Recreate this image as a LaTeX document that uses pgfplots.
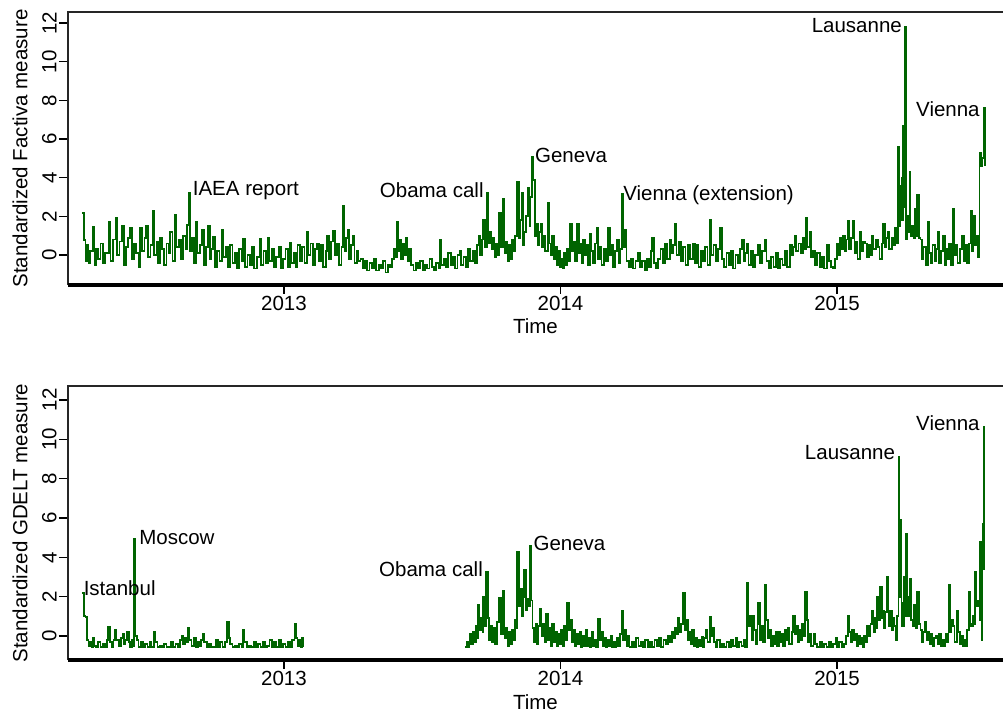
\documentclass[border=0pt]{standalone}
\usepackage{fontspec}
\setmainfont{Liberation Sans}
\usepackage{pgfplots}
\usepackage{pgfplotstable}
\pgfplotsset{compat=1.18}
\definecolor{series}{RGB}{0,100,0}

% day = days since 1 Jan 2012
\pgfplotstableread[row sep=\\]{
day value\\
100 2.19\\ 102 0.78\\ 104 -0.3\\ 106 0.5\\ 108 -0.4\\ 110 0.2\\ 114 1.46\\ 116 -0.5\\ 118 0.3\\ 121 -0.2\\
124 0.6\\ 127 -0.4\\ 130 0.1\\ 135 1.72\\ 137 -0.3\\ 140 0.8\\ 144 1.9\\ 146 0.0\\ 149 0.7\\ 152 1.5\\
155 -0.5\\ 158 0.4\\ 160 0.9\\ 163 1.4\\ 165 -0.2\\ 168 0.6\\ 171 0.1\\ 174 -0.6\\ 176 1.4\\ 179 0.2\\
182 0.9\\ 184 1.5\\ 187 -0.1\\ 190 0.5\\ 193 2.27\\ 195 0.0\\ 198 0.7\\ 200 -0.4\\ 202 0.9\\ 205 0.3\\
208 -0.5\\ 211 0.6\\ 214 0.1\\ 216 1.2\\ 219 -0.3\\ 222 2.07\\ 224 0.4\\ 227 0.8\\ 230 -0.2\\ 233 1.0\\
236 0.3\\ 238 1.55\\ 240 3.22\\ 242 0.2\\ 245 0.9\\ 247 -0.4\\ 250 1.7\\ 252 0.1\\ 255 0.5\\ 258 1.3\\
260 -0.5\\ 263 0.4\\ 266 1.5\\ 268 -0.2\\ 270 0.3\\ 272 0.96\\ 275 -0.6\\ 278 0.2\\ 281 -0.3\\ 284 1.3\\
286 -0.1\\ 289 0.4\\ 292 -0.6\\ 295 0.5\\ 298 -0.4\\ 301 0.1\\ 304 -0.7\\ 307 0.3\\ 310 -0.3\\ 312 0.85\\
315 -0.6\\ 318 0.0\\ 321 -0.5\\ 324 0.4\\ 327 -0.7\\ 330 -0.1\\ 334 0.85\\ 336 -0.5\\ 339 0.2\\ 342 -0.4\\
345 0.9\\ 347 -0.3\\ 350 0.3\\ 353 -0.6\\ 356 -0.1\\ 359 0.4\\ 362 -0.7\\ 365 -0.2\\ 368 0.3\\ 371 -0.6\\
374 0.65\\ 376 -0.4\\ 379 0.1\\ 382 -0.6\\ 384 0.5\\ 387 -0.3\\ 390 0.4\\ 393 -0.4\\ 396 1.2\\ 398 0.0\\
401 0.6\\ 404 -0.5\\ 407 0.3\\ 410 0.6\\ 412 -0.3\\ 415 0.5\\ 418 -0.6\\ 421 0.2\\ 423 1.0\\ 425 -0.2\\
428 0.7\\ 431 1.25\\ 433 0.0\\ 436 0.6\\ 439 -0.5\\ 442 0.4\\ 444 2.53\\ 446 0.2\\ 448 0.9\\ 450 1.3\\
452 -0.2\\ 455 0.5\\ 457 1.0\\ 459 -0.4\\ 462 0.2\\ 464 -0.3\\ 467 -0.2\\ 470 -0.7\\ 473 -0.3\\ 476 -0.8\\
479 -0.4\\ 482 -0.7\\ 485 -0.2\\ 488 -0.8\\ 491 -0.5\\ 494 -0.7\\ 497 -0.3\\ 500 -0.9\\ 503 -0.5\\ 506 -0.6\\
509 -0.2\\ 511 0.3\\ 513 -0.1\\ 515 1.7\\ 517 0.2\\ 519 0.8\\ 521 -0.2\\ 523 0.6\\ 525 0.0\\ 527 0.9\\
529 -0.3\\ 531 0.3\\ 534 -0.5\\ 537 -0.8\\ 540 -0.4\\ 543 -0.7\\ 546 -0.3\\ 549 -0.8\\ 552 -0.5\\ 555 -0.7\\
558 -0.2\\ 561 -0.6\\ 564 -0.8\\ 567 -0.4\\ 570 -0.7\\ 572 0.78\\ 574 -0.5\\ 577 -0.2\\ 580 -0.6\\ 583 0.1\\
586 -0.5\\ 589 -0.1\\ 592 -0.7\\ 595 0.0\\ 598 0.2\\ 600 -0.5\\ 603 -0.1\\ 606 -0.6\\ 609 0.3\\ 612 -0.3\\
615 0.2\\ 618 -0.4\\ 621 0.5\\ 623 1.0\\ 625 0.0\\ 627 0.8\\ 629 1.8\\ 631 0.4\\ 634 3.22\\ 636 0.6\\
638 1.2\\ 640 0.3\\ 642 0.9\\ 644 -0.1\\ 646 0.6\\ 648 0.0\\ 650 2.17\\ 652 0.4\\ 655 2.88\\ 657 0.1\\
659 0.7\\ 661 -0.3\\ 663 0.5\\ 665 -0.2\\ 667 0.8\\ 669 0.2\\ 671 1.0\\ 674 3.78\\ 676 0.9\\ 678 1.8\\
680 3.2\\ 681 0.5\\ 683 1.2\\ 685 2.0\\ 688 3.45\\ 690 1.5\\ 691 3.0\\ 693 5.07\\ 695 3.9\\ 697 1.0\\
699 1.6\\ 701 0.5\\ 703 1.2\\ 705 1.6\\ 707 0.4\\ 709 1.0\\ 711 0.2\\ 714 2.67\\ 716 0.6\\ 718 0.0\\
720 1.0\\ 722 -0.2\\ 724 0.4\\ 726 -0.5\\ 728 0.2\\ 730 -0.6\\ 732 -0.2\\ 734 -0.7\\ 736 0.1\\ 738 -0.5\\
740 0.3\\ 742 -0.3\\ 744 1.6\\ 746 0.2\\ 748 0.7\\ 750 -0.3\\ 753 1.6\\ 755 0.1\\ 757 0.6\\ 759 -0.4\\
761 0.8\\ 763 0.0\\ 765 0.5\\ 767 -0.5\\ 770 1.1\\ 772 0.2\\ 774 -0.4\\ 776 0.6\\ 779 1.4\\ 781 -0.2\\
783 0.4\\ 785 -0.5\\ 788 0.3\\ 791 -0.3\\ 794 1.4\\ 796 0.0\\ 798 0.5\\ 800 -0.6\\ 803 0.2\\ 806 0.8\\
808 -0.4\\ 810 0.3\\ 812 3.14\\ 814 0.4\\ 816 1.3\\ 818 -0.3\\ 821 -0.6\\ 824 -0.2\\ 827 -0.7\\ 830 -0.3\\
833 0.1\\ 836 -0.6\\ 839 -0.3\\ 842 -0.8\\ 845 -0.2\\ 848 -0.6\\ 850 0.2\\ 852 0.9\\ 854 -0.4\\ 857 -0.7\\
860 -0.2\\ 863 0.3\\ 866 -0.4\\ 869 0.6\\ 872 -0.2\\ 875 0.8\\ 877 0.1\\ 879 0.5\\ 882 1.6\\ 884 0.0\\
887 0.7\\ 890 -0.3\\ 893 0.4\\ 896 -0.5\\ 899 0.5\\ 902 -0.2\\ 906 0.6\\ 908 -0.4\\ 911 0.5\\ 913 -0.6\\
916 0.2\\ 919 -0.3\\ 922 0.4\\ 925 -0.5\\ 928 1.8\\ 930 0.0\\ 933 0.5\\ 936 -0.3\\ 939 0.3\\ 942 1.4\\
944 -0.2\\ 947 -0.6\\ 950 0.1\\ 953 -0.5\\ 956 0.2\\ 959 -0.7\\ 962 0.0\\ 965 -0.4\\ 968 0.3\\ 971 0.8\\
973 -0.3\\ 975 0.1\\ 977 0.6\\ 979 -0.5\\ 982 0.2\\ 985 -0.6\\ 988 0.0\\ 992 0.5\\ 994 -0.4\\ 997 0.2\\
1001 0.8\\ 1003 -0.3\\ 1006 -0.7\\ 1009 -0.1\\ 1012 -0.6\\ 1015 0.1\\ 1018 -0.7\\ 1021 -0.2\\ 1024 -0.5\\ 1027 0.2\\
1030 -0.6\\ 1034 0.5\\ 1036 0.0\\ 1038 0.4\\ 1040 1.0\\ 1042 0.2\\ 1045 0.6\\ 1048 0.1\\ 1051 0.9\\ 1053 0.3\\
1055 1.9\\ 1057 0.4\\ 1060 1.2\\ 1062 -0.1\\ 1064 0.2\\ 1067 -0.5\\ 1070 0.1\\ 1073 -0.6\\ 1076 -0.1\\ 1079 -0.7\\
1083 0.5\\ 1085 -0.3\\ 1088 -0.6\\ 1091 -0.7\\ 1093 -0.2\\ 1096 0.6\\ 1098 0.0\\ 1100 0.9\\ 1102 0.3\\ 1104 1.0\\
1106 0.2\\ 1108 0.8\\ 1110 1.76\\ 1112 0.3\\ 1114 0.9\\ 1117 1.76\\ 1119 0.1\\ 1121 0.7\\ 1123 -0.2\\ 1126 1.2\\
1128 0.2\\ 1130 0.7\\ 1133 0.6\\ 1135 -0.1\\ 1138 0.5\\ 1140 0.0\\ 1142 1.0\\ 1144 0.3\\ 1147 0.8\\ 1150 0.4\\
1152 -0.2\\ 1155 0.6\\ 1157 1.6\\ 1159 0.4\\ 1161 0.9\\ 1163 1.2\\ 1165 0.3\\ 1168 0.9\\ 1170 0.5\\ 1172 1.4\\
1174 0.6\\ 1176 5.6\\ 1178 1.5\\ 1179 3.6\\ 1180 2.0\\ 1181 4.0\\ 1182 1.8\\ 1183 6.7\\ 1184 2.5\\ 1186 11.8\\
1187 0.8\\ 1189 2.0\\ 1190 1.2\\ 1192 4.3\\ 1193 1.0\\ 1195 1.5\\ 1197 0.9\\ 1199 2.4\\ 1200 1.0\\ 1202 3.1\\
1204 0.9\\ 1206 0.8\\ 1208 -0.2\\ 1210 0.4\\ 1213 -0.5\\ 1216 1.7\\ 1218 0.1\\ 1220 -0.4\\ 1222 0.5\\ 1225 -0.3\\
1227 0.3\\ 1229 1.2\\ 1231 -0.4\\ 1233 0.2\\ 1236 1.0\\ 1238 -0.5\\ 1240 0.3\\ 1242 -0.2\\ 1244 0.6\\ 1246 -0.5\\
1249 2.4\\ 1251 0.0\\ 1253 0.5\\ 1255 -0.4\\ 1258 0.3\\ 1261 1.0\\ 1263 -0.3\\ 1265 0.5\\ 1267 -0.4\\ 1270 0.6\\
1272 2.3\\ 1274 0.2\\ 1276 2.0\\ 1278 0.5\\ 1280 1.0\\ 1282 -0.1\\ 1284 5.3\\ 1286 4.6\\ 1288 5.0\\ 1290 7.6\\
1291 4.6\\
}\factiva

\pgfplotstableread[row sep=\\]{
day value\\
100 2.2\\ 102 1.0\\ 104 0.95\\ 106 -0.2\\ 108 -0.5\\ 110 -0.3\\ 112 -0.55\\ 114 -0.1\\ 116 -0.5\\ 118 -0.55\\
121 -0.3\\ 124 -0.55\\ 127 -0.4\\ 130 -0.55\\ 132 -0.2\\ 134 0.46\\ 136 -0.3\\ 139 -0.55\\ 141 -0.2\\ 143 0.3\\
145 -0.2\\ 148 -0.5\\ 151 -0.1\\ 153 0.1\\ 155 -0.4\\ 157 -0.2\\ 159 0.2\\ 161 -0.3\\ 163 -0.55\\ 165 -0.2\\
166 -0.5\\ 168 4.95\\ 169 1.5\\ 170 0.0\\ 172 -0.2\\ 174 -0.55\\ 177 -0.3\\ 180 -0.55\\ 183 -0.4\\ 186 -0.55\\
189 -0.3\\ 191 -0.55\\ 194 0.2\\ 196 -0.3\\ 199 -0.55\\ 202 -0.5\\ 205 -0.55\\ 208 -0.4\\ 211 -0.55\\ 214 -0.55\\
217 -0.3\\ 220 -0.55\\ 223 -0.4\\ 226 -0.55\\ 229 -0.2\\ 231 0.0\\ 233 -0.4\\ 235 -0.1\\ 237 -0.3\\ 239 0.4\\
241 -0.2\\ 244 -0.5\\ 247 -0.1\\ 250 -0.55\\ 253 -0.3\\ 255 -0.5\\ 257 -0.2\\ 259 0.1\\ 261 -0.3\\ 264 -0.55\\
267 -0.4\\ 270 -0.55\\ 273 -0.55\\ 276 -0.2\\ 279 -0.55\\ 282 -0.3\\ 285 -0.55\\ 288 -0.3\\ 291 0.7\\ 293 -0.1\\
295 -0.4\\ 298 -0.55\\ 301 -0.5\\ 304 -0.55\\ 307 -0.4\\ 310 -0.55\\ 312 0.3\\ 314 -0.3\\ 317 -0.55\\ 320 -0.5\\
323 -0.55\\ 326 -0.3\\ 329 -0.55\\ 332 -0.4\\ 335 -0.55\\ 338 -0.3\\ 341 -0.55\\ 344 -0.5\\ 347 -0.2\\ 350 -0.55\\
353 -0.3\\ 356 -0.55\\ 359 -0.2\\ 362 -0.55\\ 365 -0.4\\ 368 -0.55\\ 371 -0.3\\ 374 -0.55\\ 377 -0.2\\ 380 0.6\\
382 -0.1\\ 384 -0.5\\ 386 -0.2\\ 388 -0.55\\ 390 -0.1\\ 391 -0.55\\
500 nan\\
605 -0.55\\ 607 -0.3\\ 609 -0.55\\ 611 0.1\\ 613 -0.4\\ 615 0.2\\ 617 -0.3\\ 619 0.5\\ 621 -0.1\\ 622 1.6\\
624 0.3\\ 626 0.9\\ 628 0.2\\ 629 2.0\\ 631 0.5\\ 633 3.25\\ 635 0.9\\ 637 -0.2\\ 639 0.5\\ 641 -0.3\\
643 0.4\\ 645 -0.4\\ 647 0.7\\ 650 1.95\\ 652 0.1\\ 655 2.3\\ 657 -0.1\\ 659 0.4\\ 661 -0.5\\ 663 0.2\\
665 -0.4\\ 667 0.3\\ 669 -0.2\\ 671 0.8\\ 672 0.4\\ 674 4.3\\ 676 1.5\\ 678 2.4\\ 680 1.0\\ 682 2.0\\
683 3.35\\ 685 1.3\\ 687 1.9\\ 689 1.5\\ 691 4.6\\ 692 1.8\\ 694 0.4\\ 696 -0.3\\ 698 0.6\\ 700 -0.4\\
702 0.5\\ 704 1.4\\ 706 0.0\\ 708 0.6\\ 710 -0.3\\ 712 1.1\\ 714 -0.2\\ 716 0.4\\ 718 -0.5\\ 720 0.6\\
722 -0.3\\ 724 0.2\\ 726 -0.5\\ 728 0.1\\ 730 -0.4\\ 732 0.3\\ 734 -0.5\\ 736 0.5\\ 738 -0.2\\ 740 1.7\\
742 0.3\\ 744 0.8\\ 746 -0.3\\ 748 0.3\\ 750 -0.5\\ 752 0.1\\ 754 -0.4\\ 756 0.2\\ 758 -0.55\\ 760 0.0\\
762 -0.5\\ 764 0.3\\ 766 -0.5\\ 768 -0.1\\ 770 -0.55\\ 772 0.2\\ 774 -0.5\\ 776 -0.2\\ 778 -0.55\\ 781 0.86\\
783 -0.2\\ 785 0.2\\ 787 -0.5\\ 789 -0.1\\ 791 -0.55\\ 793 -0.2\\ 795 -0.5\\ 797 0.0\\ 799 -0.55\\ 801 -0.3\\
803 -0.55\\ 805 -0.1\\ 807 -0.5\\ 810 0.1\\ 812 1.27\\ 814 -0.2\\ 816 0.3\\ 818 -0.5\\ 820 0.0\\ 822 -0.55\\
825 -0.3\\ 828 -0.55\\ 831 -0.1\\ 834 -0.5\\ 837 -0.3\\ 840 -0.55\\ 843 -0.2\\ 846 -0.55\\ 849 -0.3\\ 852 -0.55\\
855 -0.2\\ 858 -0.5\\ 861 -0.1\\ 864 -0.55\\ 867 -0.2\\ 870 -0.4\\ 873 0.0\\ 876 -0.3\\ 878 0.2\\ 880 -0.1\\
882 0.4\\ 884 0.1\\ 886 0.9\\ 888 0.2\\ 890 0.6\\ 893 2.2\\ 895 0.3\\ 897 0.8\\ 899 -0.2\\ 901 0.2\\
903 -0.4\\ 905 0.3\\ 907 -0.5\\ 909 -0.1\\ 911 -0.55\\ 913 -0.2\\ 915 -0.5\\ 917 -0.05\\ 919 -0.55\\ 921 -0.1\\
923 0.3\\ 925 -0.3\\ 928 0.97\\ 930 0.0\\ 932 0.4\\ 934 -0.3\\ 936 -0.55\\ 938 -0.2\\ 941 -0.55\\ 944 -0.4\\
947 -0.55\\ 950 -0.3\\ 953 -0.55\\ 956 -0.2\\ 959 -0.5\\ 962 -0.1\\ 964 -0.55\\ 967 -0.3\\ 970 -0.5\\ 973 -0.2\\
975 -0.55\\ 977 2.7\\ 979 0.5\\ 981 1.0\\ 983 -0.2\\ 985 1.0\\ 987 0.3\\ 989 -0.4\\ 991 0.6\\ 992 1.7\\
994 -0.2\\ 996 0.5\\ 998 -0.3\\ 1001 2.6\\ 1003 0.8\\ 1005 -0.1\\ 1007 0.3\\ 1009 -0.5\\ 1011 0.0\\ 1013 -0.4\\
1015 0.2\\ 1017 -0.5\\ 1019 0.2\\ 1021 -0.3\\ 1023 0.1\\ 1025 -0.5\\ 1027 0.3\\ 1029 -0.2\\ 1031 0.4\\ 1033 -0.4\\
1036 0.2\\ 1038 1.0\\ 1040 0.1\\ 1042 0.5\\ 1044 -0.3\\ 1046 0.3\\ 1048 -0.2\\ 1050 0.6\\ 1052 0.0\\ 1054 2.25\\
1056 0.8\\ 1058 -0.3\\ 1060 0.1\\ 1062 -0.5\\ 1065 0.1\\ 1067 -0.4\\ 1070 -0.55\\ 1073 -0.3\\ 1076 -0.55\\ 1079 -0.4\\
1082 -0.55\\ 1085 -0.3\\ 1088 -0.55\\ 1091 -0.4\\ 1094 -0.1\\ 1096 -0.55\\ 1099 -0.3\\ 1102 -0.55\\ 1105 -0.4\\ 1108 0.0\\
1110 1.0\\ 1112 0.2\\ 1114 -0.3\\ 1116 0.3\\ 1118 -0.2\\ 1120 0.1\\ 1122 -0.5\\ 1124 0.0\\ 1126 -0.4\\ 1128 -0.1\\
1130 -0.55\\ 1132 0.0\\ 1134 -0.3\\ 1136 0.5\\ 1138 0.0\\ 1140 0.6\\ 1142 1.3\\ 1144 0.2\\ 1146 0.9\\ 1148 0.4\\
1149 2.0\\ 1151 0.8\\ 1153 2.5\\ 1155 0.9\\ 1156 1.3\\ 1158 0.4\\ 1160 1.2\\ 1162 3.0\\ 1164 0.5\\ 1166 1.3\\
1168 0.3\\ 1170 0.9\\ 1171 0.5\\ 1173 -0.2\\ 1175 1.0\\ 1177 9.1\\ 1178 2.0\\ 1179 5.9\\ 1181 1.7\\ 1182 0.5\\
1184 3.0\\ 1185 1.0\\ 1187 5.2\\ 1188 1.5\\ 1189 1.0\\ 1191 2.0\\ 1192 2.9\\ 1194 0.8\\ 1196 0.5\\ 1198 1.6\\
1200 0.4\\ 1202 2.25\\ 1204 0.6\\ 1206 0.3\\ 1208 -0.3\\ 1210 0.2\\ 1212 0.7\\ 1214 -0.2\\ 1216 0.2\\ 1218 -0.4\\
1220 0.1\\ 1222 -0.5\\ 1224 -0.1\\ 1227 0.0\\ 1229 -0.4\\ 1231 0.1\\ 1233 -0.5\\ 1235 -0.2\\ 1237 -0.5\\ 1239 0.1\\
1241 -0.3\\ 1243 2.6\\ 1245 0.2\\ 1247 0.8\\ 1249 0.5\\ 1251 -0.3\\ 1254 1.3\\ 1256 0.2\\ 1258 -0.4\\ 1260 0.0\\
1262 -0.5\\ 1264 -0.2\\ 1266 -0.5\\ 1268 0.3\\ 1270 2.25\\ 1272 0.6\\ 1273 0.5\\ 1275 1.0\\ 1277 0.6\\ 1278 3.25\\
1280 1.5\\ 1282 1.8\\ 1284 0.8\\ 1285 4.8\\ 1286 2.5\\ 1287 -0.2\\ 1288 5.7\\ 1289 3.4\\ 1290 10.7\\
}\gdelt

\pgfplotsset{
  panel/.style={
    scale only axis, width=467.5pt,
    xmin=81, xmax=1315,
    xtick={366,731,1096}, xticklabels={2013,2014,2015},
    ytick={0,2,...,12},
    tick pos=left, tick align=outside,
    major tick length=4.5pt,
    axis line style={draw=none},
    tick style={black, line width=0.6pt},
    yticklabel style={rotate=90, anchor=south, inner sep=1pt},
    xticklabel style={anchor=north, inner sep=1pt},
    /pgf/number format/assume math mode=true,
    xlabel={Time},
    every axis y label/.style={at={(axis description cs:-0.0513,0.5)}, rotate=90, anchor=center},
    unbounded coords=jump,
    after end axis/.code={
      \draw[line width=0.8pt, black!85] (axis description cs:0,0) -- (axis description cs:0,1) -- (axis description cs:1,1);
      \draw[line width=1.7pt, black] (axis description cs:0,0) -- (axis description cs:1,0);
    },
  },
}
\tikzset{lbl/.style={inner sep=0.5pt, font=\fontsize{10.25pt}{12pt}\selectfont}}

\begin{document}
\begin{tikzpicture}[font=\fontsize{10.25pt}{12pt}\selectfont]
\path[use as bounding box] (0,0) rectangle (501.5pt,357.5pt);

\begin{axis}[panel, at={(34pt,215pt)}, anchor=south west, height=136.5pt,
  ymin=-1.55, ymax=12.57,
  ylabel={Standardized Factiva measure},
  every axis x label/.style={at={(axis description cs:0.5,-0.15)}, anchor=center}]
\addplot[series, const plot, line width=0.9pt, line join=miter, mark=none] table[x=day, y=value] {\factiva};
\node[lbl, anchor=west, xshift=1.5pt, yshift=1.3pt] at (axis cs:240,3.22) {IAEA report};
\node[lbl, anchor=east, xshift=-1pt, yshift=1.3pt] at (axis cs:634,3.22) {Obama call};
\node[lbl, anchor=west, xshift=1pt, yshift=1pt] at (axis cs:693,5.07) {Geneva};
\node[lbl, anchor=west, xshift=0pt, yshift=-0.5pt] at (axis cs:812,3.14) {Vienna (extension)};
\node[lbl, anchor=east, xshift=-1pt, yshift=0.5pt] at (axis cs:1186,11.8) {Lausanne};
\node[lbl, anchor=east, xshift=-1.5pt, yshift=-0.5pt] at (axis cs:1290,7.6) {Vienna};
\end{axis}

\begin{axis}[panel, at={(34pt,27.5pt)}, anchor=south west, height=137pt,
  ymin=-1.22, ymax=12.71,
  ylabel={Standardized GDELT measure},
  every axis x label/.style={at={(axis description cs:0.5,-0.153)}, anchor=center}]
\addplot[series, const plot, line width=0.9pt, line join=miter, mark=none] table[x=day, y=value] {\gdelt};
\node[lbl, anchor=west, xshift=0pt, yshift=2.5pt] at (axis cs:100,2.2) {Istanbul};
\node[lbl, anchor=west, xshift=2pt, yshift=0.5pt] at (axis cs:168,4.95) {Moscow};
\node[lbl, anchor=east, xshift=-1pt, yshift=1.5pt] at (axis cs:633,3.25) {Obama call};
\node[lbl, anchor=west, xshift=1pt, yshift=1pt] at (axis cs:691,4.6) {Geneva};
\node[lbl, anchor=east, xshift=-1pt, yshift=2pt] at (axis cs:1177,9.1) {Lausanne};
\node[lbl, anchor=east, xshift=-1.5pt, yshift=1pt] at (axis cs:1290,10.7) {Vienna};
\end{axis}
\end{tikzpicture}
\end{document}
